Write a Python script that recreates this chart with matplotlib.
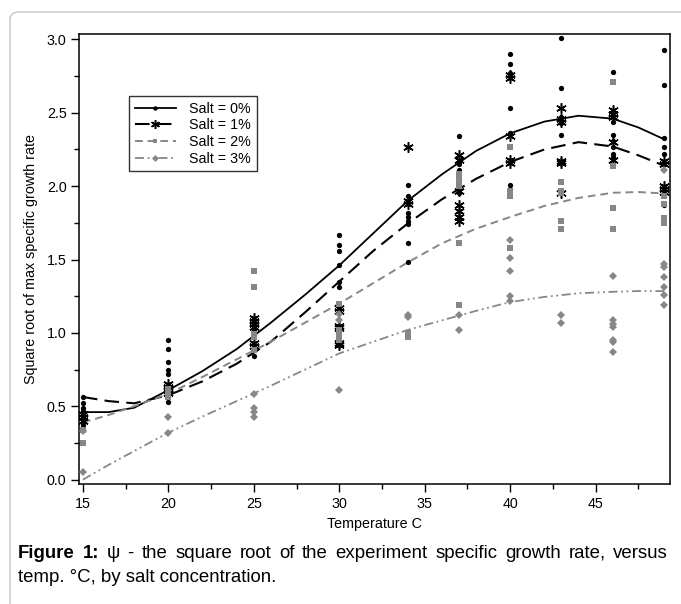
import matplotlib
matplotlib.use("Agg")
import matplotlib.pyplot as plt
from matplotlib.lines import Line2D
from matplotlib.patches import FancyBboxPatch
from matplotlib.ticker import MultipleLocator, FormatStrFormatter

plt.rcParams['font.family'] = ['Liberation Sans', 'DejaVu Sans']

# measured sqrt(growth rate) per temperature, one list per salt level
temps = [15, 20, 25, 30, 34, 37, 40, 43, 46, 49]

salt0_pts = {
    15: [0.56, 0.52, 0.49, 0.47, 0.45, 0.43, 0.41, 0.39, 0.37, 0.34],
    20: [0.95, 0.89, 0.80, 0.75, 0.72, 0.64, 0.60, 0.58, 0.56, 0.53],
    25: [1.07, 1.05, 1.02, 0.99, 0.84],
    30: [1.67, 1.60, 1.56, 1.46, 1.35, 1.31],
    34: [2.01, 1.93, 1.82, 1.79, 1.76, 1.74, 1.61, 1.48],
    37: [2.34, 2.15, 2.11, 2.05, 1.95],
    40: [2.90, 2.83, 2.77, 2.53, 2.36, 2.01, 1.98],
    43: [3.01, 2.67, 2.47, 2.43, 2.35],
    46: [2.78, 2.44, 2.35, 2.31, 2.27, 2.22, 2.20],
    49: [2.93, 2.69, 2.33, 2.27, 2.22, 1.87],
}
salt1_pts = {
    15: [0.45, 0.43, 0.40],
    20: [0.65, 0.63, 0.61, 0.59],
    25: [1.10, 1.08, 1.06, 1.04, 0.93, 0.91],
    30: [1.17, 1.15, 1.05, 1.03, 0.93, 0.92],
    34: [2.27, 1.90, 1.88],
    37: [2.21, 2.18, 1.97, 1.87, 1.83, 1.79, 1.76],
    40: [2.76, 2.74, 2.34, 2.18, 2.16],
    43: [2.53, 2.46, 2.44, 2.17, 2.16, 1.95],
    46: [2.52, 2.49, 2.47, 2.30, 2.18],
    49: [2.17, 2.15, 2.00, 1.98, 1.96],
}
salt2_pts = {
    15: [0.34, 0.25],
    20: [0.62, 0.60, 0.58, 0.56],
    25: [1.42, 1.31, 0.99, 0.97, 0.88],
    30: [1.20, 1.02, 0.99, 0.95],
    34: [1.00, 0.97],
    37: [2.08, 2.04, 2.00, 1.61, 1.19],
    40: [2.27, 1.97, 1.95, 1.93, 1.58],
    43: [2.03, 1.97, 1.95, 1.76, 1.71],
    46: [2.71, 2.14, 1.85, 1.71],
    49: [1.93, 1.88, 1.78, 1.75],
}
salt3_pts = {
    15: [0.33, 0.05],
    20: [0.43, 0.32],
    25: [0.58, 0.49, 0.46, 0.43],
    30: [1.13, 1.09, 0.61],
    34: [1.12, 1.11],
    37: [1.12, 1.02],
    40: [1.63, 1.51, 1.42, 1.25, 1.22],
    43: [1.12, 1.07],
    46: [1.39, 1.09, 1.06, 1.04, 0.95, 0.94, 0.87],
    49: [2.11, 1.47, 1.45, 1.38, 1.31, 1.26, 1.19],
}

# fitted curves, sampled along temperature
fit_t = [15, 16.5, 18, 20, 22, 24, 26, 28, 30, 32, 34, 36, 38, 40, 42, 44, 46, 47.5, 49]
fit0 = [0.46, 0.46, 0.49, 0.61, 0.74, 0.89, 1.07, 1.26, 1.46, 1.68, 1.90, 2.08, 2.24, 2.36, 2.44, 2.48, 2.46, 2.40, 2.32]
fit1 = [0.563, 0.535, 0.52, 0.575, 0.67, 0.79, 0.94, 1.14, 1.35, 1.56, 1.745, 1.91, 2.05, 2.165, 2.25, 2.30, 2.27, 2.21, 2.14]
fit2 = [0.39, 0.44, 0.50, 0.585, 0.70, 0.82, 0.94, 1.07, 1.20, 1.34, 1.48, 1.61, 1.71, 1.79, 1.865, 1.92, 1.955, 1.96, 1.95]
fit3 = [0.0, 0.10, 0.195, 0.32, 0.43, 0.535, 0.64, 0.75, 0.86, 0.94, 1.02, 1.085, 1.15, 1.21, 1.245, 1.27, 1.28, 1.285, 1.285]

labels = ["Salt = 0%", "Salt = 1%", "Salt = 2%", "Salt = 3%"]

GRAY = "#878787"
series = [
    (salt0_pts, fit0, "black", "-", "o", 3.8, 1.3),
    (salt1_pts, fit1, "black", (0, (7, 3.5)), (6, 2, 0), 7.5, 1.5),
    (salt2_pts, fit2, GRAY, (0, (4, 2.5)), "s", 4, 1.4),
    (salt3_pts, fit3, GRAY, (0, (5, 2, 1, 2, 1, 2)), "D", 4.2, 1.3),
]

FS = 10.3

fig = plt.figure(figsize=(6.81, 6.04), dpi=100)
fig.patches.append(FancyBboxPatch((10 / 681, -0.2), 1.2, 0.2 + 592 / 604,
                                  boxstyle="round,pad=0,rounding_size=0.013",
                                  transform=fig.transFigure, fill=False,
                                  edgecolor="#c4c4c4", lw=1.0, zorder=0))
ax = fig.add_axes([79 / 681, 1 - 484 / 604, (670 - 79) / 681, (484 - 34) / 604])

handles = []
for pts, fit, col, ls, mk, ms, lw in series:
    xs = [t for t in temps for _ in pts[t]]
    ys = [v for t in temps for v in pts[t]]
    mew = 1.1 if mk == (6, 2, 0) else 0
    ax.plot(xs, ys, ls="none", marker=mk, ms=ms, color=col, mec=col, mew=mew, zorder=3)
    ax.plot(fit_t, fit, ls=ls, color=col, lw=lw, zorder=2)
    handles.append(Line2D([], [], ls=ls, color=col, lw=lw, marker=mk,
                          ms=ms * 0.85, mec=col, mew=mew))

ax.set_xlim(14.77, 49.35)
ax.set_ylim(-0.03, 3.037)
ax.xaxis.set_major_locator(MultipleLocator(5))
ax.xaxis.set_minor_locator(MultipleLocator(2.5))
ax.yaxis.set_major_locator(MultipleLocator(0.5))
ax.yaxis.set_minor_locator(MultipleLocator(0.25))
ax.yaxis.set_major_formatter(FormatStrFormatter("%.1f"))
ax.tick_params(which="major", length=6, width=1, labelsize=FS, pad=3)
ax.tick_params(which="minor", length=3.5, width=1)
for s in ax.spines.values():
    s.set_linewidth(1.1)

ax.set_xlabel("Temperature C", fontsize=FS, labelpad=5)
ax.set_ylabel("Square root of max specific growth rate", fontsize=FS, labelpad=6)

leg = ax.legend(handles, labels, loc="upper left", bbox_to_anchor=(0.0846, 0.862),
                borderaxespad=0, fancybox=False, edgecolor="#333333", framealpha=1,
                fontsize=FS, handlelength=2.9, handletextpad=0.9, labelspacing=0.18,
                numpoints=1, borderpad=0.4)
leg.get_frame().set_linewidth(1.0)

# caption: first line justified across the text block, second line left aligned
CAP = 13.4
x_left, x_right = 18, 668
y1 = 1 - 553 / 604
renderer = fig.canvas.get_renderer()
pieces = [("Figure", "bold"), ("1:", "bold")] + [
    (w, "normal") for w in "ψ - the square root of the experiment specific growth rate, versus".split()]
texts = [fig.text(0, y1, w, fontsize=CAP, fontweight=fw, va="center") for w, fw in pieces]
widths = [t.get_window_extent(renderer).width for t in texts]
gap = (x_right - x_left - sum(widths)) / (len(texts) - 1)
x = x_left
for t, w in zip(texts, widths):
    t.set_x(x / 681)
    x += w + gap
fig.text(x_left / 681, 1 - 577 / 604, "temp. °C, by salt concentration.", fontsize=CAP, va="center")

fig.savefig("out.png", dpi=100)
